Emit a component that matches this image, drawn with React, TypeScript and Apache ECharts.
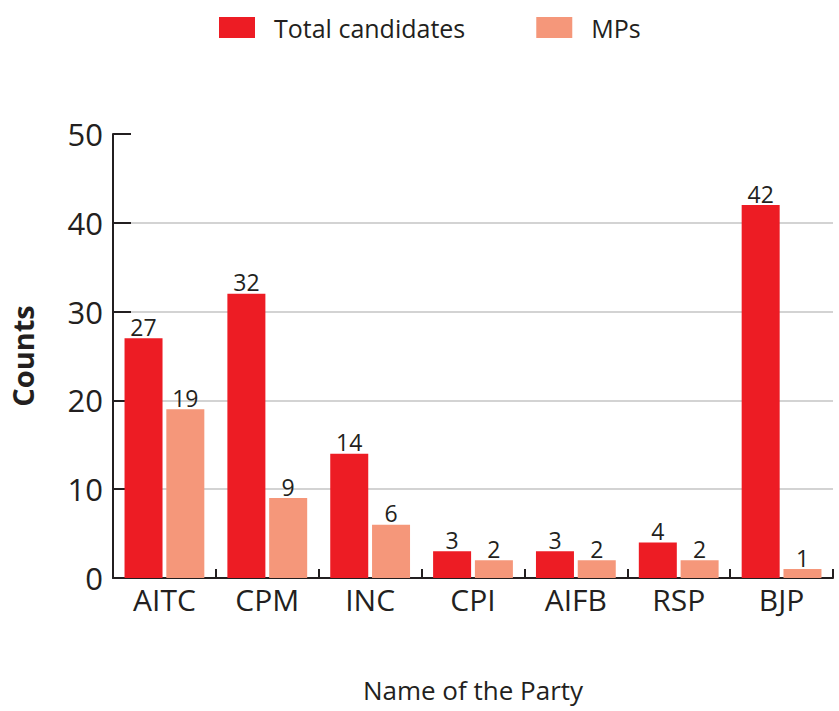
import React, { useEffect, useRef } from "react";
import * as echarts from "echarts";

const categories = ["AITC", "CPM", "INC", "CPI", "AIFB", "RSP", "BJP"];
const totalCandidates = [27, 32, 14, 3, 3, 4, 42];
const mps = [19, 9, 6, 2, 2, 2, 1];
const yTicks = [0, 10, 20, 30, 40, 50];

const FONT = "'Open Sans', 'Noto Sans', sans-serif";
const TEXT = "#231F20";

export default function App() {
  const ref = useRef<HTMLDivElement>(null);
  useEffect(() => {
    if (!ref.current) return;
    const chart = echarts.init(ref.current, undefined, { renderer: "svg" });
    chart.setOption({
      animation: false,
      textStyle: { fontFamily: FONT, color: TEXT },
      legend: {
        top: 15,
        left: 219,
        padding: 0,
        itemWidth: 36,
        itemHeight: 21,
        itemGap: 71,
        icon: "rect",
        textStyle: { fontSize: 25, color: TEXT, fontFamily: FONT, padding: [0, 0, 0, 14] },
        data: ["Total candidates", "MPs"],
      },
      grid: { left: 113, right: 6, top: 134, bottom: 133, containLabel: false, outerBoundsMode: "none" },
      xAxis: {
        type: "category",
        data: categories,
        name: "Name of the Party",
        nameLocation: "middle",
        nameGap: 99,
        nameTextStyle: { fontSize: 26, lineHeight: 26, color: TEXT, fontFamily: FONT },
        axisLine: { lineStyle: { color: TEXT, width: 2 } },
        axisTick: { show: true, inside: true, length: 9, lineStyle: { color: TEXT, width: 2 } },
        axisLabel: { fontSize: 30, color: TEXT, margin: 6, fontFamily: FONT },
      },
      yAxis: {
        type: "value",
        min: yTicks[0],
        max: yTicks[yTicks.length - 1],
        interval: 10,
        name: "Counts",
        nameLocation: "middle",
        nameGap: 76,
        nameRotate: 90,
        nameTextStyle: { fontSize: 29, fontWeight: "bold", color: TEXT, fontFamily: FONT },
        axisLine: { show: true, lineStyle: { color: TEXT, width: 2 } },
        axisTick: { show: true, inside: true, length: 18, lineStyle: { color: TEXT, width: 2 } },
        axisLabel: { fontSize: 31, color: TEXT, margin: 10, fontFamily: FONT },
        splitLine: { show: true, showMinLine: false, showMaxLine: false, lineStyle: { color: "#D3D3D3", width: 2 } },
      },
      series: [
        {
          name: "Total candidates",
          type: "bar",
          data: totalCandidates,
          barWidth: 38,
          barGap: "10%",
          itemStyle: { color: "#ED1C24" },
          label: { show: true, position: "top", distance: 0, fontSize: 23, color: TEXT, fontFamily: FONT },
        },
        {
          name: "MPs",
          type: "bar",
          data: mps,
          barWidth: 38,
          barGap: "10%",
          itemStyle: { color: "#F5977A" },
          label: { show: true, position: "top", distance: 0, fontSize: 23, color: TEXT, fontFamily: FONT },
        },
      ],
    });
    return () => chart.dispose();
  }, []);
  return <div ref={ref} style={{ width: 839, height: 711, position: "absolute", left: 0, top: 0 }} />;
}
